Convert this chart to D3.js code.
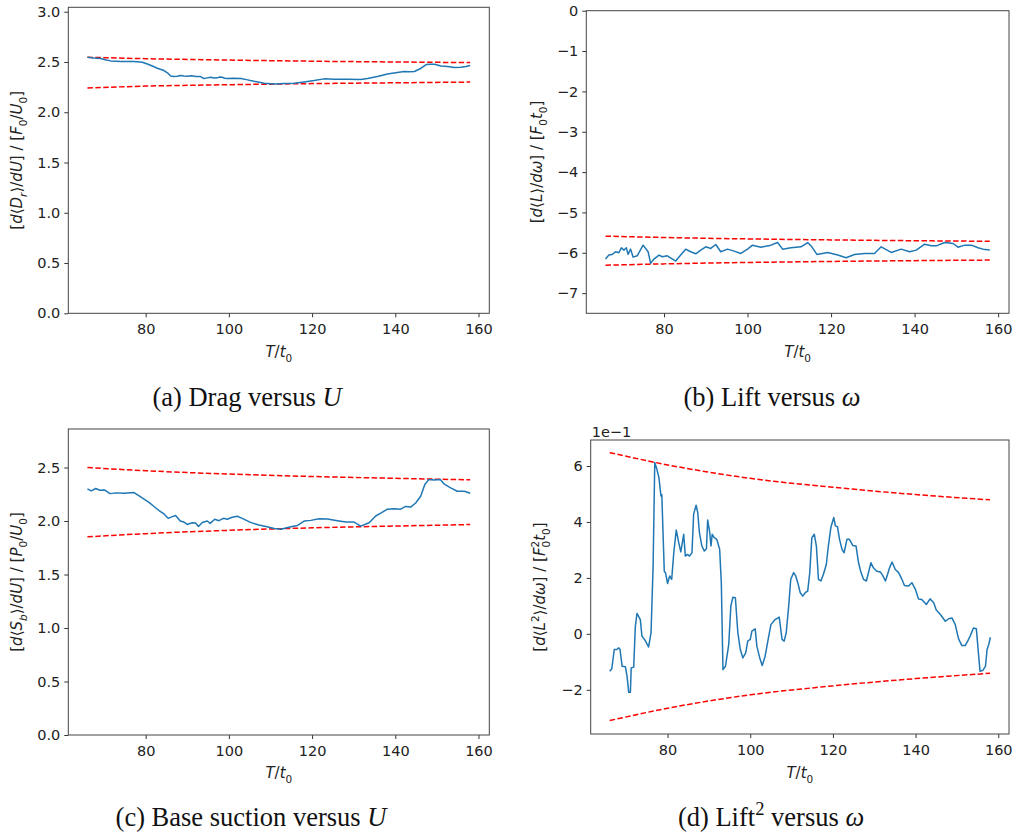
<!DOCTYPE html>
<html>
<head>
<meta charset="utf-8">
<script src="https://cdn.jsdelivr.net/npm/d3@7"></script>
<style>
  body { margin: 0; background: #fff; }
  svg { display: block; }
  .tick text { font-family: "DejaVu Sans", sans-serif; font-size: 14.5px; fill: #222; }
  .tick line { stroke: #333; }
</style>
</head>
<body>
<svg id="fig" width="1020" height="834"></svg>
<script>
// ---- data -------------------------------------------------------------
// Averaging window T/t0 on x; each curve is [T/t0, derivative estimate].
const xTicks = [80, 100, 120, 140, 160];

// (a) drag sensitivity to U
const dragCurve = [
  [66,2.547],[67.5,2.540],[69.2,2.534],[70.5,2.52],[71.6,2.511],[74,2.504],[77.2,2.504],[79.2,2.497],
  [80.4,2.48],[81.6,2.46],[82.8,2.438],[84.4,2.415],[85.3,2.39],[86,2.36],[86.8,2.355],[87.6,2.358],
  [88.4,2.365],[89.2,2.36],[90,2.358],[91,2.362],[92,2.355],[93.2,2.355],[94,2.335],[94.8,2.342],
  [95.6,2.348],[96.4,2.340],[97.2,2.342],[97.8,2.350],[98.4,2.348],[99,2.338],[99.6,2.335],[101,2.338],
  [102.9,2.335],[104.5,2.322],[106,2.308],[107.3,2.298],[108.5,2.289],[110.9,2.282],[113.3,2.285],
  [115.7,2.289],[118.1,2.302],[120.5,2.315],[122.9,2.332],[125.3,2.328],[128.5,2.328],[131.7,2.325],
  [133.3,2.335],[135.7,2.355],[138.1,2.381],[140.5,2.395],[142.1,2.405],[143.5,2.402],[144.6,2.405],
  [146.2,2.438],[147.4,2.474],[148.4,2.478],[149.4,2.478],[151,2.461],[152.6,2.454],[154.2,2.444],
  [155.8,2.448],[157,2.455],[158,2.464]
];
const dragUpper = [[66,2.547],[80,2.533],[100,2.519],[120,2.508],[140,2.500],[158,2.494]];
const dragLower = [[66,2.242],[80,2.260],[100,2.274],[120,2.285],[140,2.293],[158,2.300]];
const dragYTicks = [0, 0.5, 1.0, 1.5, 2.0, 2.5, 3.0];

// (b) lift sensitivity to omega
const liftCurve = [
  [66,-6.156],[66.8,-6.057],[67.6,-6.04],[68.4,-5.975],[69.2,-6.0],[69.8,-5.877],[70.4,-5.934],[71,-5.877],
  [71.4,-6.04],[72,-5.91],[72.6,-6.107],[73.6,-6.074],[75,-5.81],[76.2,-5.975],[76.8,-6.262],[77.6,-6.156],
  [78.8,-6.057],[79.6,-6.098],[80.8,-6.074],[82.8,-6.205],[84,-6.057],[85.2,-5.91],[86.4,-5.975],
  [87.6,-6.025],[88.8,-5.934],[90,-5.852],[91.2,-5.893],[92.4,-5.795],[93.6,-5.975],[95.2,-5.91],
  [96.8,-5.959],[98.4,-6.016],[100,-5.91],[101.2,-5.811],[103.2,-5.861],[105.6,-5.811],[107.2,-5.746],
  [108.4,-5.91],[110.4,-5.877],[112.8,-5.852],[114.4,-5.746],[115.4,-5.852],[116.6,-6.041],[119.2,-5.992],
  [121.6,-6.057],[123.6,-6.123],[125.6,-6.041],[128,-6.016],[130.4,-6.016],[132,-5.852],[134.4,-5.992],
  [136.8,-5.91],[138.8,-5.975],[140.4,-5.934],[142.4,-5.787],[144,-5.828],[145.2,-5.828],[147.2,-5.746],
  [149.2,-5.77],[150.4,-5.861],[152,-5.811],[153.6,-5.811],[155.2,-5.877],[156.4,-5.91],[158,-5.934]
];
const liftUpper = [[66,-5.588],[80,-5.621],[100,-5.656],[120,-5.681],[140,-5.701],[158,-5.715]];
const liftLower = [[66,-6.308],[80,-6.275],[100,-6.240],[120,-6.215],[140,-6.195],[158,-6.181]];
const liftYTicks = [0, -1, -2, -3, -4, -5, -6, -7];

// (c) base suction sensitivity to U
const suctionCurve = [
  [66,2.30],[66.9,2.282],[68,2.304],[69,2.288],[70.1,2.291],[71.4,2.256],[72.8,2.263],[74.8,2.26],
  [77.2,2.266],[78.8,2.225],[80.8,2.174],[82,2.136],[83.2,2.098],[84.4,2.066],[85.4,2.025],[86.4,2.041],
  [87.2,2.051],[88.3,2.0],[89.2,1.99],[90,1.968],[91.2,1.984],[92,1.981],[92.7,1.949],[93.6,1.987],
  [94.8,2.0],[95.5,1.978],[96.6,2.016],[97.6,2.003],[98.7,2.025],[99.6,2.016],[100.8,2.035],[102,2.044],
  [103.2,2.025],[105.2,1.987],[107.2,1.962],[108.9,1.949],[110.9,1.93],[112.5,1.924],[113.7,1.934],
  [114.9,1.946],[116.5,1.959],[118.1,2.0],[119.7,2.006],[121.7,2.022],[123.7,2.019],[126.1,2.003],
  [128.1,1.99],[130.1,1.99],[131.7,1.952],[133.7,1.984],[135.3,2.047],[136.5,2.073],[138.1,2.111],
  [139.7,2.114],[141.3,2.111],[142.5,2.136],[143.7,2.13],[144.9,2.168],[146.1,2.231],[147.1,2.342],
  [148.1,2.389],[149.3,2.383],[150.8,2.389],[151.7,2.348],[153.3,2.31],[154.9,2.278],[156.6,2.278],[158,2.259]
];
const suctionUpper = [[66,2.500],[80,2.470],[100,2.439],[120,2.416],[140,2.399],[158,2.385]];
const suctionLower = [[66,1.852],[80,1.882],[100,1.913],[120,1.936],[140,1.953],[158,1.967]];
const suctionYTicks = [0, 0.5, 1.0, 1.5, 2.0, 2.5];

// (d) lift-squared sensitivity to omega, in units of 1e-1
const lift2Curve = [
  [66,-1.337],[66.5,-1.25],[67.1,-0.56],[67.7,-0.56],[68.2,-0.50],[68.5,-0.56],[69,-1.16],[69.8,-1.18],
  [70.2,-1.52],[70.6,-2.09],[71,-2.09],[71.2,-1.22],[71.8,-1.19],[72.2,0.27],[72.6,0.73],[73.4,0.51],
  [73.8,-0.08],[74.6,-0.24],[75.4,-0.47],[76,0.04],[76.5,2.42],[76.9,6.125],[77.4,5.89],[77.9,5.59],
  [78.4,4.93],[78.6,4.98],[79.2,2.24],[79.5,2.18],[80,1.80],[80.5,2.07],[81,1.95],[81.5,2.90],
  [82.1,3.71],[82.7,3.26],[83.2,2.93],[83.9,3.56],[84.3,2.78],[84.8,2.84],[85.3,2.78],[85.9,2.90],
  [86.3,4.27],[86.9,4.60],[87.3,4.33],[87.7,3.62],[88.3,3.14],[88.9,2.96],[89.4,3.04],[89.7,4.07],
  [90.2,3.62],[90.5,3.14],[90.8,3.56],[91.3,3.44],[91.9,3.38],[92.6,3.02],[93,1.83],[93.4,-1.28],
  [94,-1.16],[94.8,-0.38],[95.3,0.99],[95.8,1.31],[96.4,1.29],[97,0.04],[97.6,-0.56],[98.2,-0.86],
  [98.9,-0.68],[99.4,-0.26],[100,-0.20],[100.4,0.10],[101.2,0.18],[101.6,-0.44],[102.3,-0.86],
  [102.9,-1.13],[103.6,-0.80],[104.4,-0.14],[105,0.33],[106,0.51],[107,0.60],[107.7,-0.20],[108.2,-0.26],
  [108.7,0.04],[109.3,0.99],[109.8,1.95],[110.5,2.19],[111,2.07],[111.5,1.83],[112.1,1.47],[112.7,1.35],
  [113.3,1.47],[113.9,1.53],[114.4,2.19],[114.9,3.44],[115.5,3.56],[116,3.14],[116.5,1.95],[117.1,1.89],
  [117.7,2.13],[118.4,2.48],[118.9,3.14],[119.5,3.80],[120.2,4.16],[120.6,3.86],[121.1,3.83],[121.6,3.38],
  [122.2,3.02],[122.7,2.90],[123.4,3.38],[124,3.38],[124.8,3.16],[125.6,3.14],[126.2,2.54],[126.8,2.19],
  [127.4,1.95],[128.1,1.89],[128.6,2.19],[129.2,2.54],[129.8,2.36],[130.6,2.24],[131.5,2.21],[132.1,2.07],
  [132.7,1.89],[133.1,2.07],[133.7,2.36],[134.3,2.57],[135.1,2.30],[135.9,2.19],[136.7,1.95],[137.3,1.73],
  [138.3,1.71],[139.1,1.83],[139.9,1.61],[140.7,1.25],[141.5,1.23],[142.6,1.05],[143.5,1.25],[144.4,1.11],
  [145,0.85],[146,0.69],[147.2,0.45],[148,0.54],[148.8,0.57],[149.6,0.33],[150.4,-0.18],[151.2,-0.42],
  [152,-0.42],[152.6,-0.26],[153.2,-0.08],[154,0.21],[154.7,0.18],[155.2,-0.68],[155.6,-1.34],[156.3,-1.30],
  [156.9,-1.16],[157.3,-0.56],[157.7,-0.38],[158.1,-0.12]
];
const lift2Upper = [[66,6.48],[80,6.04],[100,5.56],[120,5.24],[140,4.98],[158,4.79]];
const lift2Lower = [[66,-3.10],[80,-2.66],[100,-2.18],[120,-1.86],[140,-1.60],[158,-1.41]];
const lift2YTicks = [-2, 0, 2, 4, 6];

// Axis labels as [text, style] runs: "i" italic, "_" subscript, "^" superscript, "<" stack under previous run
const dragYLabel = [["["],["d","i"],["⟨"],["D","i"],["r","i_"],["⟩/"],["dU","i"],["] / ["],["F","i"],["0","_"],["/"],["U","i"],["0","_"],["]"]];
const liftYLabel = [["["],["d","i"],["⟨"],["L","i"],["⟩/"],["dω","i"],["] / ["],["F","i"],["0","_"],["t","i"],["0","_"],["]"]];
const suctionYLabel = [["["],["d","i"],["⟨"],["S","i"],["b","i_"],["⟩/"],["dU","i"],["] / ["],["P","i"],["0","_"],["/"],["U","i"],["0","_"],["]"]];
const lift2YLabel = [["["],["d","i"],["⟨"],["L","i"],["2","^"],["⟩/"],["dω","i"],["] / ["],["F","i"],["2","^"],["0","_<"],["t","i"],["0","_"],["]"]];
const xLabel = [["T","i"],["/"],["t","i"],["0","_"]];

const captionA = [["(a) Drag versus "],["U","i"]];
const captionB = [["(b) Lift versus "],["ω","i"]];
const captionC = [["(c) Base suction versus "],["U","i"]];
const captionD = [["(d) Lift"],["2","^"],[" versus "],["ω","i"]];

// ---- drawing ----------------------------------------------------------
const svg = d3.select("#fig");
const SANS = '"DejaVu Sans", sans-serif';
const SERIF = '"Liberation Serif", "DejaVu Serif", serif';

// Write styled runs into a <text> element, handling sub/superscripts.
function richText(textSel, runs, size) {
  let shift = 0;
  let prev = null;
  runs.forEach(([t, s = ""]) => {
    const italic = s.includes("i");
    const sub = s.includes("_");
    const sup = s.includes("^");
    const small = sub || sup;
    const target = sub ? size * 0.3 : sup ? -size * 0.42 : 0;
    const ts = textSel.append("tspan").text(t)
      .attr("font-style", italic ? "italic" : "normal")
      .attr("font-size", small ? size * 0.7 : size);
    if (target !== shift) { ts.attr("dy", target - shift); shift = target; }
    if (s.includes("<") && prev) ts.attr("dx", -prev.node().getComputedTextLength());
    prev = ts;
  });
  return textSel;
}

const panels = [
  { box: [68.3, 7.3, 489.3, 313.3], yDom: [0, 3.044], yTicks: dragYTicks, yFmt: d3.format(".1f"),
    curve: dragCurve, upper: dragUpper, lower: dragLower, yLabel: dragYLabel, yLabelX: 22,
    xLabelY: 357, caption: captionA, capX: 247, capY: 406 },
  { box: [586.3, 10.7, 1009, 313.3], yDom: [-7.5, 0], yTicks: liftYTicks, yFmt: d3.format("d"),
    curve: liftCurve, upper: liftUpper, lower: liftLower, yLabel: liftYLabel, yLabelX: 542,
    xLabelY: 357, caption: captionB, capX: 772, capY: 406 },
  { box: [68.3, 429, 489.3, 735], yDom: [0, 2.86], yTicks: suctionYTicks, yFmt: d3.format(".1f"),
    curve: suctionCurve, upper: suctionUpper, lower: suctionLower, yLabel: suctionYLabel, yLabelX: 22,
    xLabelY: 778, caption: captionC, capX: 251, capY: 826 },
  { box: [590.7, 440, 1009, 734], yDom: [-3.58, 6.93], yTicks: lift2YTicks, yFmt: d3.format("d"),
    curve: lift2Curve, upper: lift2Upper, lower: lift2Lower, yLabel: lift2YLabel, yLabelX: 545,
    xLabelY: 778, caption: captionD, capX: 771, capY: 826, offsetText: "1e\u22121" }
];

panels.forEach(p => {
  const [x0, y0, x1, y1] = p.box;
  const x = d3.scaleLinear().domain([61.4, 162.6]).range([x0, x1]);
  const y = d3.scaleLinear().domain(p.yDom).range([y1, y0]);
  const g = svg.append("g");

  const line = d3.line().x(d => x(d[0])).y(d => y(d[1]));
  const smooth = d3.line().x(d => x(d[0])).y(d => y(d[1])).curve(d3.curveMonotoneX);

  // red dashed confidence bounds
  [p.upper, p.lower].forEach(b => {
    g.append("path").datum(b).attr("d", smooth)
      .attr("fill", "none").attr("stroke", "#ff0000").attr("stroke-width", 1.5)
      .attr("stroke-dasharray", "5.5,2.4");
  });
  // estimate
  g.append("path").datum(p.curve).attr("d", line)
    .attr("fill", "none").attr("stroke", "#1f77b4").attr("stroke-width", 1.5)
    .attr("stroke-linejoin", "round");

  // axes
  const xa = g.append("g").attr("transform", `translate(0,${y1})`)
    .call(d3.axisBottom(x).tickValues(xTicks).tickSize(4).tickPadding(4).tickFormat(d3.format("d")));
  const ya = g.append("g").attr("transform", `translate(${x0},0)`)
    .call(d3.axisLeft(y).tickValues(p.yTicks).tickSize(4).tickPadding(4).tickFormat(p.yFmt));
  xa.select(".domain").remove();
  ya.select(".domain").remove();
  xa.selectAll("text").attr("dy", "0.9em");

  g.append("rect").attr("x", x0).attr("y", y0).attr("width", x1 - x0).attr("height", y1 - y0)
    .attr("fill", "none").attr("stroke", "#444").attr("stroke-width", 1);

  // x label
  richText(g.append("text").attr("x", (x0 + x1) / 2).attr("y", p.xLabelY)
    .attr("text-anchor", "middle").attr("font-family", SANS).attr("fill", "#222"), xLabel, 15);

  // y label (rotated)
  richText(g.append("text")
    .attr("transform", `translate(${p.yLabelX},${(y0 + y1) / 2}) rotate(-90)`)
    .attr("text-anchor", "middle").attr("font-family", SANS).attr("fill", "#222"), p.yLabel, 15);

  if (p.offsetText) {
    g.append("text").attr("x", x0 + 1).attr("y", y0 - 3.5)
      .attr("font-family", SANS).attr("font-size", 14.5).attr("fill", "#222").text(p.offsetText);
  }

  // caption
  richText(g.append("text").attr("x", p.capX).attr("y", p.capY)
    .attr("text-anchor", "middle").attr("font-family", SERIF).attr("fill", "#111"), p.caption, 26.5);
});
</script>
</body>
</html>
